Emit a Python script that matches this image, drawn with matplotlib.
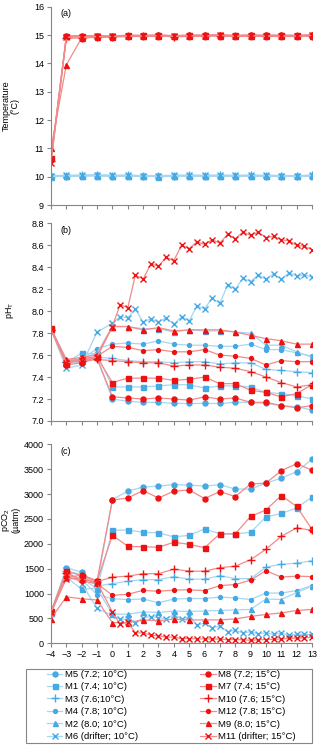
import matplotlib.pyplot as plt
from matplotlib.lines import Line2D
from matplotlib.patches import Rectangle

plt.rcParams['font.family'] = ['Liberation Sans', 'DejaVu Sans']
plt.rcParams['font.size'] = 6.5
plt.rcParams['mathtext.default'] = 'regular'

# sampling days (mesocosms daily, drifters twice a day after day 0)
days = [-4, -3, -2, -1, 0, 1, 2, 3, 4, 5, 6, 7, 8, 9, 10, 11, 12, 13]
days_drift = [-4, -3, -2, -1, 0, 0.5, 1, 1.5, 2, 2.5, 3, 3.5, 4, 4.5, 5, 5.5,
              6, 6.5, 7, 7.5, 8, 8.5, 9, 9.5, 10, 10.5, 11, 11.5, 12, 12.5, 13]

labels_10 = ["M5 (7.2; 10°C)", "M1 (7.4; 10°C)", "M3 (7.6;10°C)",
             "M4 (7.8; 10°C)", "M2 (8.0; 10°C)", "M6 (drifter; 10°C)"]
labels_15 = ["M8 (7.2; 15°C)", "M7 (7.4; 15°C)", "M10 (7.6; 15°C)",
             "M12 (7.8; 15°C)", "M9 (8.0; 15°C)", "M11 (drifter; 15°C)"]

# (a) temperature
temp_10 = [
    [10.02, 10.03, 10.04, 10.05, 10.03, 10.04, 10.02, 10.02, 10.03, 10.04, 10.03, 10.04, 10.03, 10.04, 10.03, 10.03, 10.02, 10.04],
    [10.01, 10.02, 10.03, 10.04, 10.02, 10.03, 10.02, 10.01, 10.02, 10.03, 10.02, 10.03, 10.02, 10.03, 10.02, 10.02, 10.02, 10.03],
    [10.03, 10.04, 10.05, 10.06, 10.04, 10.05, 10.03, 10.03, 10.04, 10.05, 10.04, 10.05, 10.04, 10.05, 10.04, 10.04, 10.03, 10.05],
    [10.02, 10.03, 10.04, 10.05, 10.03, 10.04, 10.03, 10.02, 10.03, 10.04, 10.03, 10.04, 10.03, 10.04, 10.03, 10.03, 10.03, 10.04],
    [10.00, 10.01, 10.02, 10.03, 10.01, 10.02, 10.01, 10.00, 10.01, 10.02, 10.01, 10.02, 10.01, 10.02, 10.01, 10.01, 10.01, 10.02],
    [10.04, 10.05, 10.05, 10.06, 10.05, 10.05, 10.04, 10.04, 10.05, 10.05, 10.05, 10.05, 10.05, 10.05, 10.05, 10.04, 10.04, 10.05],
]
temp_15 = [
    [10.60, 14.95, 14.97, 14.97, 14.95, 14.98, 14.98, 15.00, 14.97, 14.99, 14.99, 15.00, 14.98, 15.00, 14.99, 14.99, 14.98, 15.00],
    [10.65, 14.97, 14.98, 14.98, 14.96, 15.00, 14.99, 15.00, 14.98, 15.00, 15.00, 15.01, 14.99, 15.00, 14.99, 15.00, 14.99, 15.01],
    [10.55, 14.88, 14.90, 14.92, 14.93, 14.95, 14.95, 14.97, 14.94, 14.95, 14.96, 14.97, 14.95, 14.96, 14.95, 14.95, 14.95, 14.96],
    [10.60, 14.93, 14.95, 14.95, 14.95, 14.97, 14.97, 14.99, 14.96, 14.98, 14.98, 14.99, 14.97, 14.99, 14.97, 14.98, 14.97, 14.99],
    [11.00, 13.95, 14.90, 14.93, 14.94, 14.96, 14.96, 14.98, 14.95, 14.97, 14.97, 14.98, 14.96, 14.98, 14.96, 14.97, 14.96, 14.98],
    [10.50, 14.92, 14.94, 14.95, 14.95, 14.97, 14.97, 14.98, 14.96, 14.98, 14.97, 14.99, 14.96, 14.98, 14.97, 14.97, 14.97, 14.99],
]

# (b) pH total scale
ph_10 = [
    [7.84, 7.52, 7.54, 7.57, 7.20, 7.18, 7.17, 7.17, 7.16, 7.16, 7.16, 7.16, 7.17, 7.17, 7.16, 7.14, 7.13, 7.10],
    [7.84, 7.53, 7.62, 7.61, 7.31, 7.31, 7.31, 7.32, 7.33, 7.33, 7.30, 7.32, 7.32, 7.31, 7.26, 7.25, 7.23, 7.20],
    [7.83, 7.54, 7.55, 7.58, 7.57, 7.55, 7.54, 7.54, 7.53, 7.54, 7.54, 7.52, 7.53, 7.53, 7.47, 7.46, 7.45, 7.44],
    [7.84, 7.55, 7.56, 7.66, 7.70, 7.71, 7.70, 7.73, 7.70, 7.69, 7.69, 7.68, 7.68, 7.70, 7.65, 7.65, 7.62, 7.59],
    [7.84, 7.55, 7.57, 7.62, 7.86, 7.86, 7.84, 7.84, 7.81, 7.83, 7.82, 7.82, 7.81, 7.80, 7.69, 7.69, 7.63, 7.58],
]
ph_m6 = [7.83, 7.48, 7.51, 7.81, 7.89, 7.95, 7.94, 8.02, 7.90, 7.93, 7.90, 7.94, 7.88, 7.95, 7.91, 8.05,
         8.02, 8.12, 8.07, 8.24, 8.20, 8.30, 8.27, 8.33, 8.29, 8.34, 8.29, 8.35, 8.32, 8.33, 8.31]
ph_15 = [
    [7.84, 7.51, 7.53, 7.57, 7.22, 7.21, 7.20, 7.21, 7.20, 7.19, 7.22, 7.20, 7.21, 7.17, 7.17, 7.14, 7.12, 7.14],
    [7.85, 7.52, 7.57, 7.58, 7.35, 7.39, 7.39, 7.39, 7.37, 7.38, 7.40, 7.34, 7.34, 7.28, 7.26, 7.22, 7.25, 7.33],
    [7.83, 7.54, 7.55, 7.56, 7.55, 7.54, 7.53, 7.53, 7.50, 7.51, 7.51, 7.49, 7.48, 7.45, 7.40, 7.35, 7.31, 7.33],
    [7.84, 7.55, 7.56, 7.59, 7.68, 7.67, 7.64, 7.65, 7.63, 7.63, 7.65, 7.60, 7.59, 7.57, 7.51, 7.55, 7.54, 7.54],
    [7.84, 7.56, 7.58, 7.60, 7.86, 7.86, 7.83, 7.85, 7.82, 7.83, 7.83, 7.83, 7.81, 7.78, 7.75, 7.73, 7.70, 7.70],
]
ph_m11 = [7.84, 7.53, 7.55, 7.58, 7.86, 8.06, 8.03, 8.33, 8.29, 8.43, 8.41, 8.49, 8.46, 8.60, 8.57, 8.63,
          8.61, 8.65, 8.62, 8.70, 8.66, 8.72, 8.69, 8.72, 8.67, 8.68, 8.65, 8.64, 8.60, 8.59, 8.56]

# (c) pCO2 (uatm)
pco2_10 = [
    [620, 1520, 1430, 1180, 2890, 3060, 3140, 3160, 3190, 3180, 3160, 3190, 3100, 3100, 3220, 3320, 3450, 3700],
    [610, 1330, 1085, 1110, 2270, 2280, 2230, 2220, 2140, 2170, 2300, 2200, 2200, 2230, 2540, 2610, 2720, 2940],
    [630, 1460, 1380, 1150, 1200, 1250, 1280, 1280, 1340, 1290, 1290, 1360, 1300, 1300, 1530, 1590, 1610, 1660],
    [620, 1400, 1280, 980, 895, 880, 890, 815, 890, 900, 900, 930, 910, 880, 1010, 1010, 1060, 1160],
    [600, 1350, 1300, 1100, 585, 585, 630, 620, 650, 640, 650, 660, 670, 680, 890, 880, 1020, 1150],
]
pco2_m6 = [620, 1480, 1200, 700, 560, 490, 480, 410, 515, 535, 515, 495, 575, 490, 540, 370,
           400, 310, 350, 235, 260, 210, 230, 190, 210, 180, 200, 170, 180, 180, 180]
pco2_15 = [
    [630, 1320, 1370, 1260, 2880, 2920, 3070, 2920, 3060, 3080, 2910, 3050, 2950, 3200, 3220, 3470, 3610, 3480],
    [640, 1450, 1360, 1250, 2170, 1950, 1940, 1930, 2030, 1990, 1920, 2200, 2200, 2550, 2680, 2970, 2750, 2290],
    [620, 1420, 1270, 1240, 1330, 1350, 1400, 1400, 1490, 1450, 1450, 1520, 1550, 1680, 1890, 2150, 2320, 2270],
    [610, 1340, 1250, 1200, 965, 985, 1065, 1045, 1070, 1075, 1060, 1160, 1180, 1270, 1460, 1330, 1350, 1340],
    [495, 935, 895, 870, 415, 415, 470, 455, 485, 470, 470, 470, 490, 540, 580, 610, 660, 680],
]
pco2_m11 = [630, 1300, 1300, 1220, 630, 385, 420, 210, 210, 160, 150, 125, 125, 95, 95, 88,
            88, 85, 85, 70, 75, 70, 60, 70, 75, 80, 85, 100, 100, 110, 120]

# styles
blue_mk, blue_ln = '#45A9E4', '#A6D6F2'
red_mk, red_ln = '#EE1111', '#F28A8A'
markers = [('o', 3.6), ('s', 3.6), ('+', 6.0), ('o', 2.8), ('^', 3.6), ('x', 4.0)]


def style(i, warm):
    m, s = markers[i]
    mk, ln = (red_mk, red_ln) if warm else (blue_mk, blue_ln)
    return dict(marker=m, ms=s, mfc=mk, mec=mk, mew=1.0, color=ln, lw=0.9)


W, H = 320, 747
fig = plt.figure(figsize=(W / 100, H / 100), dpi=100)
x0, x1 = 51, 312


def add_ax(top, bottom):
    return fig.add_axes([x0 / W, 1 - bottom / H, (x1 - x0) / W, (bottom - top) / H])


ax_a = add_ax(6.7, 205)
ax_b = add_ax(223.3, 421)
ax_c = add_ax(444.3, 643.3)

for i in range(6):
    ax_a.plot(days, temp_10[i], **style(i, False))
for i in range(6):
    ax_a.plot(days, temp_15[i], **style(i, True))

for i in range(5):
    ax_b.plot(days, ph_10[i], **style(i, False))
ax_b.plot(days_drift, ph_m6, **style(5, False))
for i in range(5):
    ax_b.plot(days, ph_15[i], **style(i, True))
ax_b.plot(days_drift, ph_m11, **style(5, True))

for i in range(5):
    ax_c.plot(days, pco2_10[i], **style(i, False))
ax_c.plot(days_drift, pco2_m6, **style(5, False))
for i in range(5):
    ax_c.plot(days, pco2_15[i], **style(i, True))
ax_c.plot(days_drift, pco2_m11, **style(5, True))

axis_grey = '#868686'
for ax in (ax_a, ax_b, ax_c):
    ax.set_xlim(-4, 13)
    ax.set_xticks(range(-4, 14))
    for s in ('top', 'right'):
        ax.spines[s].set_visible(False)
    for s in ('left', 'bottom'):
        ax.spines[s].set_color(axis_grey)
        ax.spines[s].set_linewidth(0.8)
    ax.tick_params(direction='out', length=3, width=0.8, color=axis_grey,
                   labelsize=6.5, pad=2)
    ax.patch.set_alpha(0)

ax_a.tick_params(axis='x', labelbottom=False)
ax_b.tick_params(axis='x', labelbottom=False)

ax_a.set_ylim(9, 16)
ax_a.set_yticks(range(9, 17))
ax_b.set_ylim(7.0, 8.8)
ax_b.set_yticks([7.0, 7.2, 7.4, 7.6, 7.8, 8.0, 8.2, 8.4, 8.6, 8.8])
ax_b.set_yticklabels(['7.0', '7.2', '7.4', '7.6', '7.8', '8.0', '8.2', '8.4', '8.6', '8.8'])
ax_c.set_ylim(0, 4000)
ax_c.set_yticks(range(0, 4001, 500))

ax_a.set_ylabel('Temperature\n(°C)', fontsize=6.5, linespacing=1.0)
ax_a.yaxis.set_label_coords(-0.12, 0.5)
ax_b.set_ylabel('pH$_T$', fontsize=6.5)
ax_b.yaxis.set_label_coords(-0.134, 0.56)
ax_c.set_ylabel('pCO$_2$\n(µatm)', fontsize=6.5, linespacing=0.95)
ax_c.yaxis.set_label_coords(-0.117, 0.62)

for ax, lab in ((ax_a, '(a)'), (ax_b, '(b)'), (ax_c, '(c)')):
    ax.text(0.035, 0.965, lab, transform=ax.transAxes, fontsize=6.5,
            ha='left', va='center')

# legend: cold in left column, warm in right column
handles = [Line2D([], [], **style(i, False)) for i in range(6)] + \
          [Line2D([], [], **style(i, True)) for i in range(6)]
fig.legend(handles, labels_10 + labels_15, ncol=2, loc='upper left',
           bbox_to_anchor=(47 / W, 1 - 670 / H), borderaxespad=0, borderpad=0,
           frameon=False, fontsize=6.8, handlelength=1.6, handletextpad=0.3,
           labelspacing=0.36, columnspacing=6.6)
fig.patches.append(Rectangle((26 / W, 1 - 743 / H), 286 / W, 74 / H,
                             transform=fig.transFigure, fill=False,
                             edgecolor=axis_grey, lw=0.8))

fig.savefig('out.png', dpi=100)
